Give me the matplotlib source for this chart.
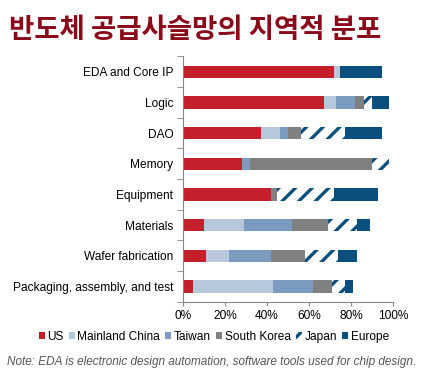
import matplotlib.pyplot as plt
import matplotlib.patches as mpatches
import numpy as np

# Data (share of value added, %)
categories = ['EDA and Core IP', 'Logic', 'DAO', 'Memory', 'Equipment',
              'Materials', 'Wafer fabrication', 'Packaging, assembly, and test']
regions = ['US', 'Mainland China', 'Taiwan', 'South Korea', 'Japan', 'Europe']
us = [72, 67, 37, 28, 42, 10, 11, 5]
china = [3, 6, 9, 0, 0, 19, 11, 38]
taiwan = [0, 9, 4, 4, 0, 23, 20, 19]
korea = [0, 4, 6, 58, 3, 17, 16, 9]
japan = [0, 4, 21, 8, 27, 14, 16, 6]
europe = [20, 8, 18, 0, 21, 6, 9, 4]

colors = ['#C3202B', '#B7C8DD', '#7B9BC0', '#808080', 'white', '#0B4F7E']
hatch_col = '#0B4F7E'

plt.rcParams['font.family'] = ['Liberation Sans', 'DejaVu Sans']
plt.rcParams['hatch.linewidth'] = 2.4

fig = plt.figure(figsize=(4.32, 3.78), dpi=100)
ax = fig.add_axes([0.4236, 0.2018, 0.4861, 0.649])

series = [us, china, taiwan, korea, japan, europe]
y = np.arange(len(categories))
left = np.zeros(len(categories))
for name, vals, col in zip(regions, series, colors):
    vals = np.array(vals, dtype=float)
    if name == 'Japan':
        ax.barh(y, vals, left=left, height=0.4, color='white', edgecolor=hatch_col,
                hatch='//', linewidth=0)
    else:
        ax.barh(y, vals, left=left, height=0.4, color=col, linewidth=0)
    left += vals

ax.set_ylim(len(categories) - 0.5, -0.5)
ax.set_xlim(0, 100)
ax.set_yticks(y)
ax.set_yticklabels(categories, fontsize=8.6)
ax.set_yticks(np.arange(-0.5, len(categories) + 0.5, 1), minor=True)
ax.tick_params(axis='y', which='major', length=0, pad=7)
ax.tick_params(axis='y', which='minor', length=4, color='#888888', direction='out')
ax.set_xticks(np.arange(0, 101, 20))
ax.set_xticklabels([f'{v}%' for v in range(0, 101, 20)], fontsize=8.6)
ax.tick_params(axis='x', length=3, color='#888888', pad=3)
for s in ['top', 'right']:
    ax.spines[s].set_visible(False)
for s in ['left', 'bottom']:
    ax.spines[s].set_color('#888888')
    ax.spines[s].set_linewidth(0.8)

# Legend
handles = []
for name, col in zip(regions, colors):
    if name == 'Japan':
        handles.append(mpatches.Patch(facecolor='white', edgecolor=hatch_col, hatch='//',
                                      linewidth=0, label=name))
    else:
        handles.append(mpatches.Patch(facecolor=col, linewidth=0, label=name))
fig.legend(handles=handles, loc='center', bbox_to_anchor=(0.495, 0.109), ncol=6,
           frameon=False, fontsize=8.6, handlelength=0.5, handleheight=0.5,
           handletextpad=0.2, columnspacing=0.45)

fig.text(0.02, 0.921, '반도체 공급사슬망의 지역적 분포', fontsize=19.8, fontweight='bold',
         color='#8B0A1A', family=['Noto Sans CJK KR', 'DejaVu Sans'], va='center')
fig.text(0.016, 0.043, 'Note: EDA is electronic design automation, software tools used for chip design.',
         fontsize=8.5, style='italic', color='#555555', va='center')

fig.savefig('out.png', dpi=100)
